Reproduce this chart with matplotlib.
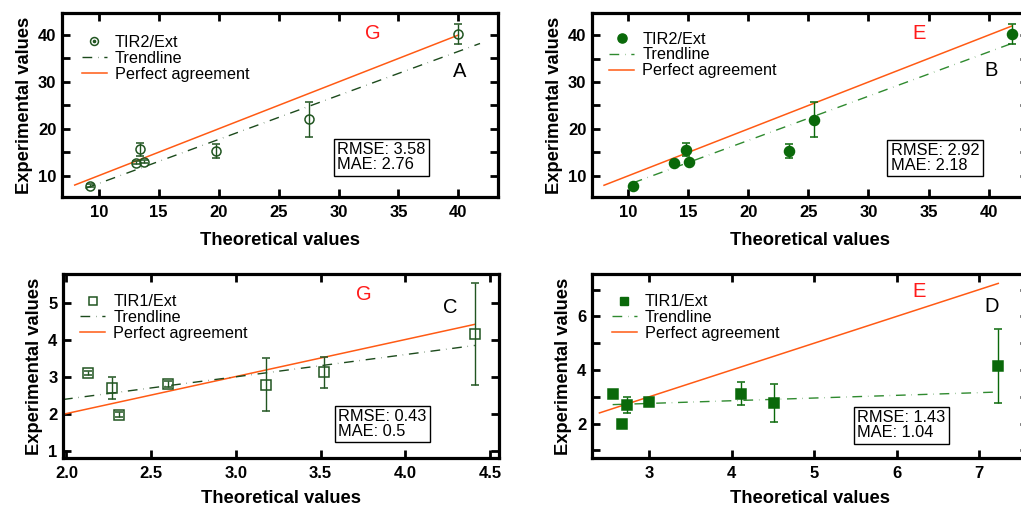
import matplotlib
matplotlib.use("Agg")
import matplotlib.pyplot as plt
from matplotlib.lines import Line2D
from matplotlib.ticker import MultipleLocator, FormatStrFormatter

plt.rcParams['font.family'] = ['Liberation Sans', 'DejaVu Sans']

# ---- data -------------------------------------------------------------
# Panel A: TIR2/Ext, method G
a_theo = [9.3, 13.15, 13.45, 13.8, 19.8, 27.5, 40.0]
a_exp = [7.9, 12.8, 15.6, 13.0, 15.3, 22.0, 40.2]
a_err = [0.3, 0.3, 1.4, 0.3, 1.5, 3.8, 2.1]
a_trend_x = [8.9, 41.8]
a_trend_y = [7.3, 38.2]
a_perfect = [8.0, 40.0]

# Panel B: TIR2/Ext, method E
b_theo = [10.37, 13.85, 14.8, 15.05, 23.35, 25.45, 41.9]
b_exp = [7.9, 12.8, 15.6, 13.0, 15.3, 22.0, 40.2]
b_err = [0.3, 0.3, 1.4, 0.3, 1.5, 3.8, 2.1]
b_trend_x = [10.4, 41.8]
b_trend_y = [8.5, 38.1]
b_perfect = [8.0, 41.9]

# Panel C: TIR1/Ext, method G
c_theo = [2.13, 2.27, 2.31, 2.60, 3.18, 3.52, 4.41]
c_exp = [3.1, 2.69, 1.97, 2.80, 2.78, 3.11, 4.15]
c_err = [0.05, 0.29, 0.06, 0.08, 0.71, 0.43, 1.37]
c_trend_x = [1.98, 4.41]
c_trend_y = [2.38, 3.84]
c_perfect = [1.99, 4.41]

# Panel D: TIR1/Ext, method E
d_theo = [2.56, 2.67, 2.73, 3.0, 4.12, 4.51, 7.23]
d_exp = [3.1, 1.97, 2.69, 2.80, 3.11, 2.78, 4.15]
d_err = [0.05, 0.06, 0.29, 0.08, 0.43, 0.71, 1.37]
d_trend_x = [2.56, 7.23]
d_trend_y = [2.71, 3.18]
d_perfect = [2.40, 7.23]

metrics = {"A": ("3.58", "2.76"), "B": ("2.92", "2.18"),
           "C": ("0.43", "0.5"), "D": ("1.43", "1.04")}

# ---- style ------------------------------------------------------------
PERFECT = "#ff5a14"
DARK = "#215521"      # open markers
DARK_TREND = "#1c4a1c"
FILLED = "#0a690a"    # filled markers
FILLED_TREND = "#2f8a2f"
DASH = (0, (7, 4.2, 0.3, 4.2))

W, H = 1021, 509
fig = plt.figure(figsize=(W / 100, H / 100), dpi=100)


def px_axes(left, top, width, height):
    return fig.add_axes([left / W, 1 - (top + height) / H, width / W, height / H])


def style_axes(ax, xlabelpad=9):
    for s in ax.spines.values():
        s.set_linewidth(2.3)
    ax.tick_params(which="both", direction="in", top=True, right=True,
                   length=5.5, width=2.0, labelsize=12, pad=5.5)
    ax.tick_params(axis="y", pad=4)
    for lab in ax.get_xticklabels() + ax.get_yticklabels():
        lab.set_fontweight("bold")
    ax.set_xlabel("Theoretical values", fontsize=13.2, fontweight="bold", labelpad=xlabelpad)
    ax.set_ylabel("Experimental values", fontsize=13.2, fontweight="bold", labelpad=4)


def panel(ax, theo, exp, err, trend_x, trend_y, perfect, label, marker, filled, ms,
          letter, method, leg_xy, letter_xy, method_xy, box_xy):
    mcol = FILLED if filled else DARK
    tcol = FILLED_TREND if filled else DARK_TREND
    ax.plot(perfect, perfect, color=PERFECT, lw=1.1, zorder=2)
    ax.plot(trend_x, trend_y, color=tcol, lw=1.0, linestyle=DASH, zorder=2)
    ax.errorbar(theo, exp, yerr=err, fmt=marker, ms=ms, color=mcol,
                ecolor=mcol, elinewidth=1.0, capsize=3.0, capthick=1.0,
                mfc=mcol if filled else "none", mec=mcol, mew=1.1, zorder=3)

    if filled:
        mh = Line2D([], [], marker=marker, ls="none", ms=ms - 0.6, color=mcol)
    elif marker == "o":
        mh = (Line2D([], [], marker="o", ls="none", ms=ms - 0.8, mfc="none", mec=mcol, mew=1.1),
              Line2D([], [], marker="o", ls="none", ms=1.6, color=mcol))
    else:
        mh = Line2D([], [], marker=marker, ls="none", ms=ms - 0.8, mfc="none", mec=mcol, mew=1.1)
    th = Line2D([], [], color=tcol, lw=1.0, linestyle=DASH)
    ph = Line2D([], [], color=PERFECT, lw=1.1)
    ax.legend([mh, th, ph], [label, "Trendline", "Perfect agreement"],
              loc="upper left", bbox_to_anchor=leg_xy, frameon=False,
              fontsize=11.7, handlelength=1.55, handletextpad=0.5,
              labelspacing=0.055, borderpad=0, borderaxespad=0, numpoints=1)

    ax.text(*letter_xy, letter, transform=ax.transAxes, fontsize=14.5,
            ha="center", va="center", color="black")
    ax.text(*method_xy, method, transform=ax.transAxes, fontsize=14.5,
            ha="center", va="center", color="#ff1a1a")
    rmse, mae = metrics[letter]
    ax.text(*box_xy, f"RMSE: {rmse}\nMAE: {mae}", transform=ax.transAxes,
            fontsize=11.8, ha="left", va="center", linespacing=1.0,
            bbox=dict(boxstyle="square,pad=0.2", fc="white", ec="black", lw=1.0))


# ---- panel A ----
axA = px_axes(62, 13, 436, 184)
axA.set_xlim(6.94, 43.3)
axA.set_ylim(5.45, 44.7)
axA.xaxis.set_major_locator(MultipleLocator(5))
axA.yaxis.set_major_locator(MultipleLocator(10))
axA.yaxis.set_minor_locator(MultipleLocator(5))
style_axes(axA)
panel(axA, a_theo, a_exp, a_err, a_trend_x, a_trend_y, a_perfect, "TIR2/Ext", "o",
      False, 6.5, "A", "G", (0.045, 0.881), (0.913, 0.681), (0.713, 0.890), (0.631, 0.215))

# ---- panel B ----
axB = px_axes(592, 13, 436, 184)
axB.set_xlim(7.0, 43.27)
axB.set_ylim(5.5, 44.7)
axB.xaxis.set_major_locator(MultipleLocator(5))
axB.yaxis.set_major_locator(MultipleLocator(10))
axB.yaxis.set_minor_locator(MultipleLocator(5))
style_axes(axB)
panel(axB, b_theo, b_exp, b_err, b_trend_x, b_trend_y, b_perfect, "TIR2/Ext", "o",
      True, 7.2, "B", "E", (0.039, 0.899), (0.915, 0.690), (0.750, 0.891), (0.685, 0.212))

# ---- panel C ----
axC = px_axes(63, 274, 436, 184)
axC.set_xlim(1.98, 4.553)
axC.set_ylim(0.80, 5.77)
axC.xaxis.set_major_locator(MultipleLocator(0.5))
axC.xaxis.set_major_formatter(FormatStrFormatter("%.1f"))
axC.yaxis.set_major_locator(MultipleLocator(1))
style_axes(axC, xlabelpad=7)
panel(axC, c_theo, c_exp, c_err, c_trend_x, c_trend_y, c_perfect, "TIR1/Ext", "s",
      False, 6.7, "C", "G", (0.039, 0.890), (0.888, 0.817), (0.690, 0.886), (0.631, 0.185))

# ---- panel D ----
axD = px_axes(592, 274, 436, 184)
axD.set_xlim(2.31, 7.59)
axD.set_ylim(0.72, 7.58)
axD.xaxis.set_major_locator(MultipleLocator(1))
axD.yaxis.set_major_locator(MultipleLocator(2))
axD.yaxis.set_minor_locator(MultipleLocator(1))
style_axes(axD, xlabelpad=7)
panel(axD, d_theo, d_exp, d_err, d_trend_x, d_trend_y, d_perfect, "TIR1/Ext", "s",
      True, 6.6, "D", "E", (0.045, 0.890), (0.917, 0.822), (0.750, 0.904), (0.608, 0.177))

for ax in (axA, axB, axC, axD):
    ax.tick_params(which="minor", direction="in", right=True, left=True,
                   length=5.5, width=2.0)

fig.savefig("out.png", dpi=100)
